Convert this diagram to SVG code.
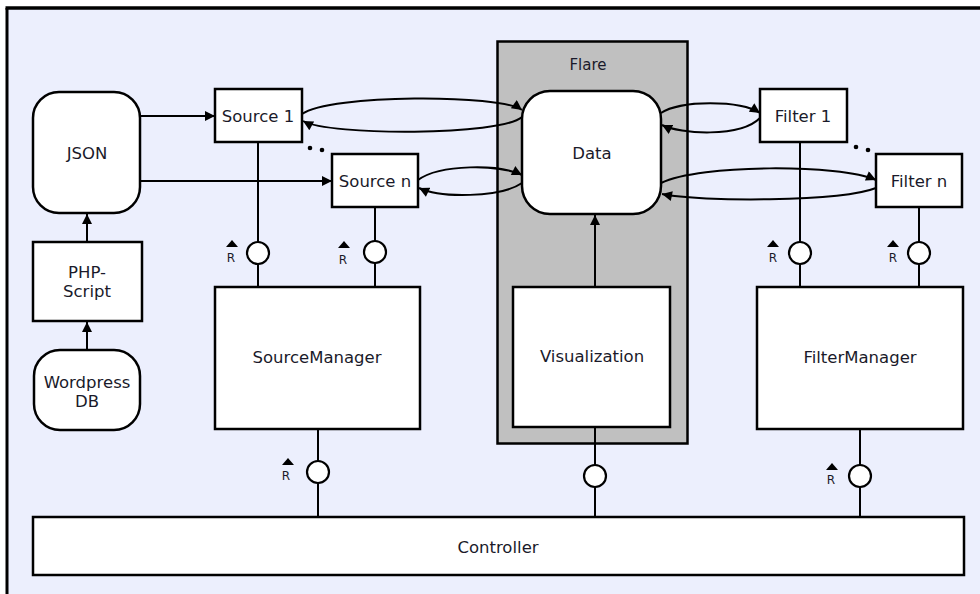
<svg xmlns="http://www.w3.org/2000/svg" width="980" height="594" viewBox="0 0 980 594">
<defs>
<marker id="ah" viewBox="0 0 10 10" refX="10" refY="5" markerWidth="11" markerHeight="10" markerUnits="userSpaceOnUse" orient="auto">
<path d="M0,0 L10,5 L0,10 Z" fill="#000"/>
</marker>
</defs>
<style>
.box{fill:#fff;stroke:#000;stroke-width:2.5}
.t{font-family:"DejaVu Sans",Verdana,sans-serif;font-size:16.5px;fill:#1a1a2a;text-anchor:middle}
.r{font-family:"DejaVu Sans",Verdana,sans-serif;font-size:12px;fill:#1a1a2a;text-anchor:middle}
.c{fill:none;stroke:#000;stroke-width:2}
.a{fill:none;stroke:#000;stroke-width:2;marker-end:url(#ah)}
.lp{fill:#fff;stroke:#000;stroke-width:2.2}
</style>
<rect x="0" y="0" width="980" height="594" fill="#fff"/>
<rect x="7" y="8" width="973" height="586" fill="#ECEFFD"/>
<line x1="5.5" y1="8" x2="980" y2="8" stroke="#000" stroke-width="3.5"/>
<line x1="7" y1="8" x2="7" y2="594" stroke="#000" stroke-width="3"/>

<g id="flare">
<rect x="497.5" y="41.5" width="190" height="402" fill="#C0C0C0" stroke="#000" stroke-width="2.5"/>
<text class="t" x="588" y="70" style="font-size:15px">Flare</text>
</g>

<g id="connectors">
<line class="a" x1="140" y1="116" x2="215" y2="116"/>
<line class="a" x1="140" y1="181" x2="332" y2="181"/>
<line class="a" x1="87" y1="242" x2="87" y2="214"/>
<line class="a" x1="87" y1="350" x2="87" y2="322"/>
<path class="a" d="M302,114 C330,94 500,94 522,110"/>
<path class="a" d="M522,117 C500,136 330,136 303,121"/>
<path class="a" d="M418,180 C440,164 500,164 522,175"/>
<path class="a" d="M522,183 C500,198 440,198 419,188"/>
<path class="a" d="M661,113 C680,100 740,100 760,113"/>
<path class="a" d="M760,118 C740,138 680,134 662,125"/>
<path class="a" d="M661,183 C700,164 840,164 876,180"/>
<path class="a" d="M876,188 C840,202 700,202 662,194"/>
<line class="a" x1="595" y1="287" x2="595" y2="215"/>
<line class="c" x1="258" y1="142" x2="258" y2="287"/>
<line class="c" x1="375" y1="207" x2="375" y2="287"/>
<line class="c" x1="800" y1="142" x2="800" y2="287"/>
<line class="c" x1="919" y1="207" x2="919" y2="287"/>
<line class="c" x1="318" y1="429" x2="318" y2="517"/>
<line class="c" x1="595" y1="427" x2="595" y2="517"/>
<line class="c" x1="860" y1="429" x2="860" y2="517"/>
</g>

<g id="dots" fill="#000">
<circle cx="310" cy="148" r="2.3"/>
<circle cx="322" cy="150" r="2.3"/>
<circle cx="856" cy="147" r="2.3"/>
<circle cx="868" cy="150" r="2.3"/>
</g>

<g id="lollipops">
<circle class="lp" cx="258" cy="253" r="11"/>
<circle class="lp" cx="375" cy="252" r="11"/>
<circle class="lp" cx="800" cy="253" r="11"/>
<circle class="lp" cx="919" cy="253" r="11"/>
<circle class="lp" cx="318" cy="472" r="11"/>
<circle class="lp" cx="595" cy="476" r="11"/>
<circle class="lp" cx="860" cy="476" r="11"/>
</g>

<g id="rlabels">
<path d="M226,247 L232,240 L238,247 Z"/><text class="r" x="231" y="262">R</text>
<path d="M338,248 L344,241 L350,248 Z"/><text class="r" x="343" y="264">R</text>
<path d="M767,247 L773,240 L779,247 Z"/><text class="r" x="773" y="262">R</text>
<path d="M887,247 L893,240 L899,247 Z"/><text class="r" x="893" y="262">R</text>
<path d="M282,465 L288,458 L294,465 Z"/><text class="r" x="286" y="480">R</text>
<path d="M826,470 L832,463 L838,470 Z"/><text class="r" x="831" y="484">R</text>
</g>

<g id="json"><rect class="box" x="33" y="92" width="107" height="121" rx="26"/><text class="t" x="87" y="159">JSON</text></g>
<g id="php"><rect class="box" x="33" y="242" width="109" height="79"/><text class="t" x="87" y="278">PHP-</text><text class="t" x="87" y="297">Script</text></g>
<g id="wordpress"><rect class="box" x="34" y="350" width="106" height="80" rx="26"/><text class="t" x="87" y="388">Wordpress</text><text class="t" x="87" y="407">DB</text></g>
<g id="source1"><rect class="box" x="215" y="89" width="87" height="53"/><text class="t" x="258" y="122">Source 1</text></g>
<g id="sourcen"><rect class="box" x="332" y="154" width="86" height="53"/><text class="t" x="375" y="187">Source n</text></g>
<g id="data"><rect class="box" x="522" y="91" width="139" height="123" rx="28"/><text class="t" x="592" y="159">Data</text></g>
<g id="filter1"><rect class="box" x="760" y="89" width="87" height="53"/><text class="t" x="803" y="122">Filter 1</text></g>
<g id="filtern"><rect class="box" x="876" y="154" width="86" height="53"/><text class="t" x="919" y="187">Filter n</text></g>
<g id="sourcemanager"><rect class="box" x="215" y="287" width="205" height="142"/><text class="t" x="317" y="363">SourceManager</text></g>
<g id="visualization"><rect class="box" x="513" y="287" width="157" height="140"/><text class="t" x="592" y="362">Visualization</text></g>
<g id="filtermanager"><rect class="box" x="757" y="287" width="206" height="142"/><text class="t" x="860" y="363">FilterManager</text></g>
<g id="controller"><rect class="box" x="33" y="517" width="931" height="58"/><text class="t" x="498" y="553">Controller</text></g>
</svg>
